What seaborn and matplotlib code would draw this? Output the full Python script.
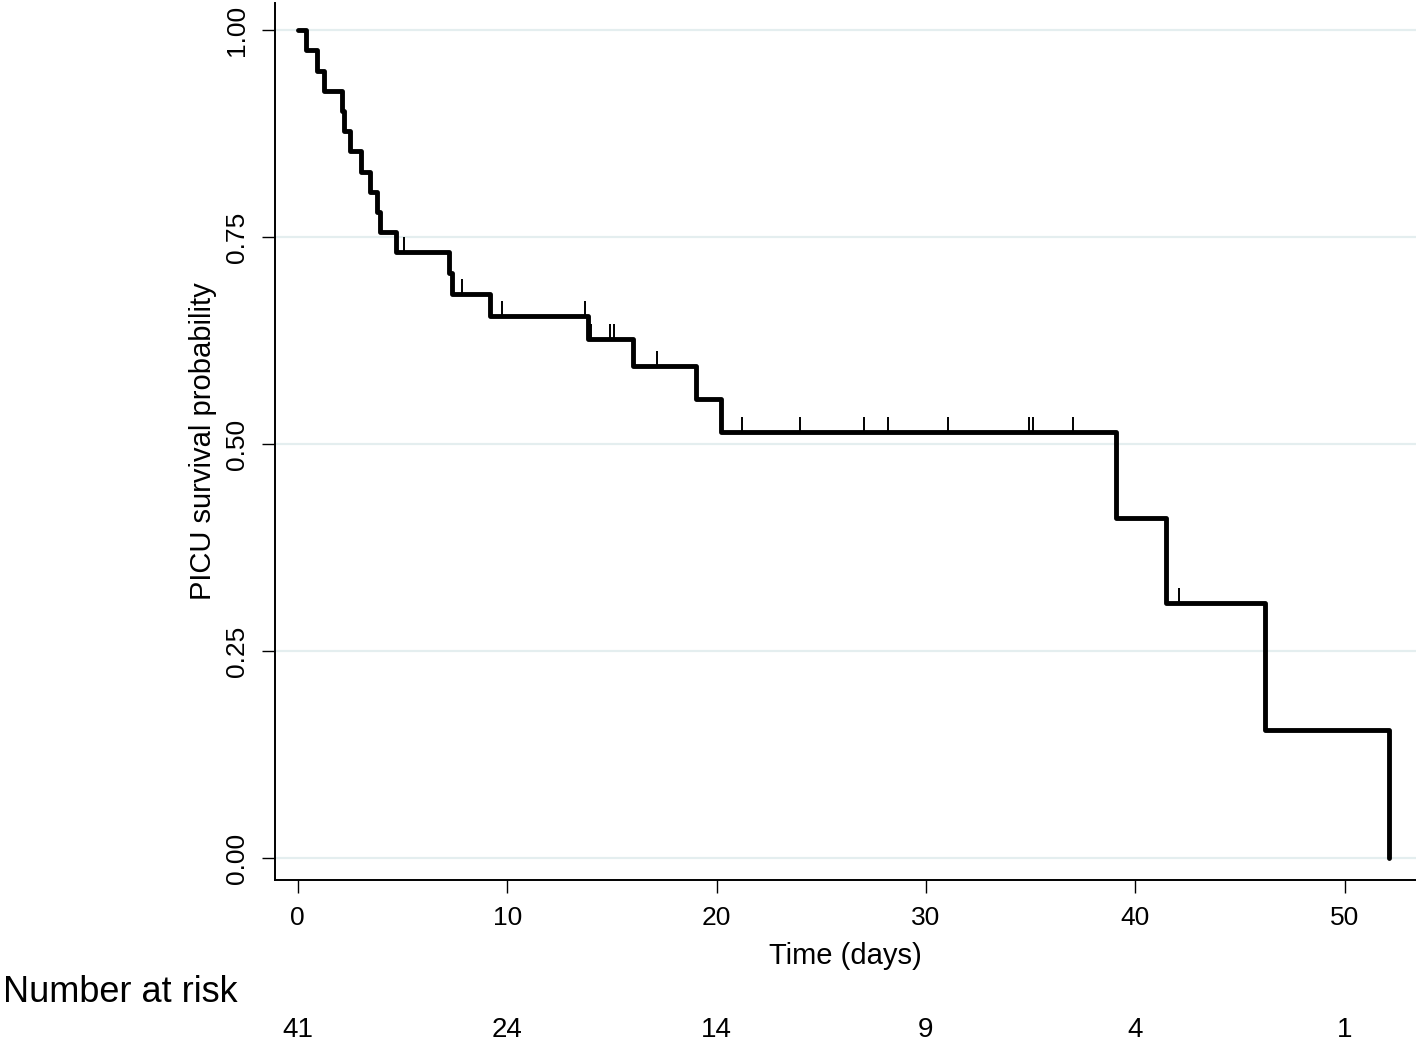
import matplotlib
matplotlib.use("Agg")
import matplotlib.pyplot as plt
import matplotlib.transforms as mtransforms
import seaborn as sns
import pandas as pd

# ---- data ----
step_times = [0, 0.4, 0.9, 1.25, 2.13, 2.2, 2.5, 3.04, 3.44, 3.79, 3.92, 4.71,
              7.23, 7.39, 9.2, 13.87, 16.0, 19.04, 20.23, 39.06, 41.45, 46.2, 52.1]
survival = [1.0, 0.976, 0.951, 0.927, 0.902, 0.878, 0.854, 0.829, 0.805, 0.780,
            0.756, 0.732, 0.707, 0.681, 0.655, 0.627, 0.594, 0.554, 0.514, 0.411,
            0.308, 0.154, 0.0]
censor_times = [5.08, 7.85, 9.77, 13.7, 14.0, 14.9, 15.1, 17.16, 21.2, 24.0,
                27.05, 28.2, 31.06, 34.9, 35.1, 37.0, 42.1]
censor_surv = [0.732, 0.681, 0.655, 0.655, 0.627, 0.627, 0.627, 0.594, 0.514,
               0.514, 0.514, 0.514, 0.514, 0.514, 0.514, 0.514, 0.308]
risk_times = [0, 10, 20, 30, 40, 50]
risk_counts = [41, 24, 14, 9, 4, 1]
x_ticks = [0, 10, 20, 30, 40, 50]
y_ticks = [0.0, 0.25, 0.5, 0.75, 1.0]
y_ticklabels = ["0.00", "0.25", "0.50", "0.75", "1.00"]

sns.set_theme(style="white")
plt.rcParams["font.family"] = ["Liberation Sans", "DejaVu Sans"]

fig = plt.figure(figsize=(14.16, 10.46), dpi=100)
ax = fig.add_axes([0.194, 0.1587, 0.806, 0.8383])

df = pd.DataFrame({"time": step_times, "surv": survival})
sns.lineplot(data=df, x="time", y="surv", drawstyle="steps-post", color="black",
             linewidth=3.5, ax=ax, estimator=None, sort=False)

ax.plot(censor_times, censor_surv, linestyle="none", marker=2, markersize=11,
        markeredgewidth=1.4, color="black")

ax.set_xlim(-1.1, 53.4)
ax.set_ylim(-0.0266, 1.0326)
ax.set_xticks(x_ticks)
ax.set_yticks(y_ticks)
ax.set_yticklabels(y_ticklabels, rotation=90, va="center")
ax.grid(axis="y", color="#e4eeef", linewidth=1.6)
ax.grid(axis="x", visible=False)
ax.set_axisbelow(True)

for s in ["top", "right"]:
    ax.spines[s].set_visible(False)
for s in ["left", "bottom"]:
    ax.spines[s].set_color("black")
    ax.spines[s].set_linewidth(1.4)

ax.tick_params(axis="both", which="major", direction="out", length=9.5, width=1.0,
               color="black", labelsize=19, labelcolor="black", pad=9, left=True, bottom=True)

ax.set_xlabel("Time (days)", fontsize=21, color="black", labelpad=9)
ax.set_ylabel("PICU survival probability", fontsize=21, color="black", labelpad=6)

trans = mtransforms.blended_transform_factory(ax.transData, fig.transFigure)
fig.text(0.002, 1 - 993 / 1046, "Number at risk", fontsize=26, color="black",
         ha="left", va="center")
for t, n in zip(risk_times, risk_counts):
    ax.text(t, 1 - 1030 / 1046, str(n), transform=trans, fontsize=20,
            color="black", ha="center", va="center", clip_on=False)

fig.savefig("out.png", dpi=100, facecolor="white")
